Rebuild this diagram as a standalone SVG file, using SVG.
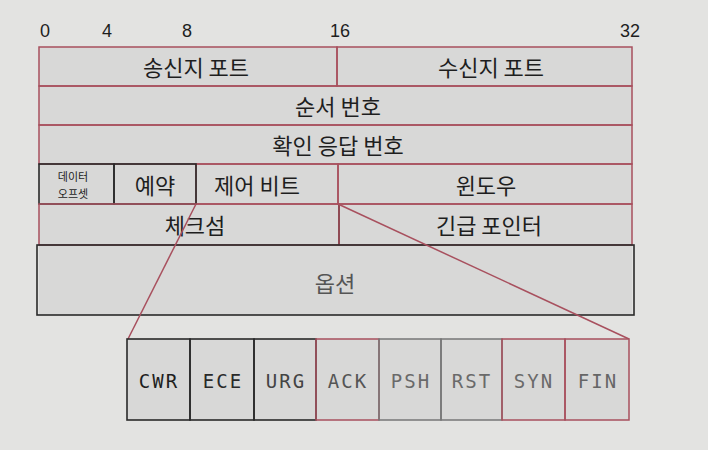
<svg xmlns="http://www.w3.org/2000/svg" width="708" height="450" viewBox="0 0 708 450">
<defs>
<style>
.bg{fill:#e3e3e1}
.cell{fill:#d8d8d7}
.r{stroke:#a8505e;stroke-width:1.5;fill:none}
.k{stroke:#2a2a2a;stroke-width:1.6;fill:none}
.g{stroke:#777;stroke-width:1.5;fill:none}
.t{font-family:"Noto Sans CJK KR","Noto Sans",sans-serif;font-size:22px;fill:#1e1e1e;text-anchor:middle;dominant-baseline:central}
.s{font-size:11px}
.n{font-family:"Liberation Sans","DejaVu Sans",sans-serif;font-size:18px;fill:#1e1e1e;text-anchor:middle}
.f{font-family:"DejaVu Sans Mono","Liberation Mono",monospace;font-size:19px;letter-spacing:2px;text-anchor:middle;dominant-baseline:central}
</style>
</defs>
<rect class="bg" x="0" y="0" width="708" height="450"/>
<g id="scale">
<text class="n" x="45" y="37">0</text>
<text class="n" x="107" y="37">4</text>
<text class="n" x="187" y="37">8</text>
<text class="n" x="340" y="37">16</text>
<text class="n" x="630" y="37">32</text>
</g>
<g id="header">
<rect class="cell" x="39" y="47" width="593" height="268"/>
</g>
<g id="src-port"><rect class="r" x="39" y="47" width="298" height="39"/><text class="t" x="196" y="66">송신지 포트</text></g>
<g id="dst-port"><rect class="r" x="337" y="47" width="295" height="39"/><text class="t" x="491" y="66">수신지 포트</text></g>
<g id="seq"><rect class="r" x="39" y="86" width="593" height="39"/><text class="t" x="338" y="105">순서 번호</text></g>
<g id="ack"><rect class="r" x="39" y="125" width="593" height="39"/><text class="t" x="338" y="144">확인 응답 번호</text></g>
<g id="ctrl"><rect class="r" x="196" y="164" width="142" height="40"/><text class="t" x="257" y="184">제어 비트</text></g>
<g id="window"><rect class="r" x="338" y="164" width="294" height="40"/><text class="t" x="486" y="184">윈도우</text></g>
<g id="offset"><rect class="k" x="39" y="164" width="75" height="40"/><text class="t s" x="73" y="176">데이터</text><text class="t s" x="73" y="193">오프셋</text></g>
<g id="reserved"><rect class="k" x="114" y="164" width="82" height="40"/><text class="t" x="155" y="184">예약</text></g>
<g id="checksum"><rect class="r" x="39" y="204" width="300" height="41"/><line class="k" x1="339" y1="204" x2="339" y2="245"/><text class="t" x="195" y="224">체크섬</text></g>
<g id="urgent"><rect class="r" x="339" y="204" width="293" height="41"/><text class="t" x="489" y="224">긴급 포인터</text></g>
<g id="options"><rect class="k" x="37" y="245" width="597" height="70"/><text class="t" x="335" y="282" style="fill:#555">옵션</text></g>
<g id="connectors">
<line class="r" x1="196" y1="204" x2="128" y2="339"/>
<line class="r" x1="338" y1="204" x2="629" y2="339"/>
</g>
<g id="flags">
<rect class="cell" x="127" y="339" width="502" height="81"/>
<g id="cwr"><rect class="k" x="127" y="339" width="63" height="81"/><text class="f" x="159" y="381" fill="#1e1e1e">CWR</text></g>
<g id="ece"><rect class="k" x="190" y="339" width="64" height="81"/><text class="f" x="223" y="381" fill="#2a2a2a">ECE</text></g>
<g id="urg"><rect class="k" x="254" y="339" width="62" height="81"/><text class="f" x="286" y="381" fill="#444">URG</text></g>
<g id="ackf"><rect class="r" x="316" y="339" width="63" height="81"/><text class="f" x="348" y="381" fill="#555">ACK</text></g>
<g id="psh"><rect class="g" x="379" y="339" width="62" height="81"/><text class="f" x="411" y="381" fill="#6a6a6a">PSH</text></g>
<g id="rst"><rect class="g" x="441" y="339" width="61" height="81"/><text class="f" x="472" y="381" fill="#6a6a6a">RST</text></g>
<g id="syn"><rect class="r" x="502" y="339" width="63" height="81"/><text class="f" x="534" y="381" fill="#6a6a6a">SYN</text></g>
<g id="fin"><rect class="r" x="565" y="339" width="64" height="81"/><text class="f" x="598" y="381" fill="#666">FIN</text></g>
</g>
</svg>
